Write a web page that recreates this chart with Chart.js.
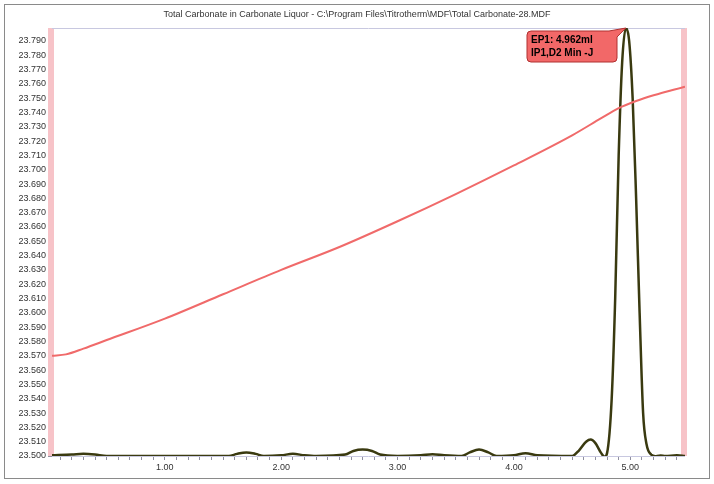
<!DOCTYPE html>
<html><head><meta charset="utf-8">
<script src="https://cdn.jsdelivr.net/npm/chart.js@4.4.1/dist/chart.umd.min.js"></script>
<style>html,body{margin:0;padding:0;background:#fff}#wrap{position:relative;width:714px;height:484px}</style>
</head><body><div id="wrap"><canvas id="c" width="714" height="484"></canvas></div>
<script>
const titleText = "Total Carbonate in Carbonate Liquor - C:\\Program Files\\Titrotherm\\MDF\\Total Carbonate-28.MDF";
const calloutLines = ["EP1: 4.962ml", "IP1,D2 Min -J"];
const peakX = 4.962;
const xMajorTicks = [1, 2, 3, 4, 5];
const yTicks = [23.50,23.51,23.52,23.53,23.54,23.55,23.56,23.57,23.58,23.59,23.60,23.61,23.62,23.63,23.64,23.65,23.66,23.67,23.68,23.69,23.70,23.71,23.72,23.73,23.74,23.75,23.76,23.77,23.78,23.79];
const tempX = [0.03,0.15,0.30,0.50,1.00,1.50,2.00,2.50,3.00,3.50,4.00,4.50,4.75,4.90,5.05,5.20,5.47];
const tempY = [23.570,23.571,23.575,23.581,23.596,23.613,23.630,23.646,23.664,23.683,23.703,23.724,23.736,23.743,23.748,23.752,23.758];
const derivX = [0.03,0.20,0.30,0.40,0.50,1.00,1.55,1.62,1.70,1.78,1.85,2.00,2.10,2.20,2.30,2.55,2.62,2.70,2.78,2.85,3.00,3.20,3.30,3.40,3.55,3.62,3.70,3.78,3.85,4.00,4.10,4.20,4.50,4.56,4.62,4.66,4.70,4.75,4.78,4.80,4.84,4.87,4.90,4.93,4.962,4.99,5.02,5.05,5.08,5.11,5.14,5.18,5.22,5.26,5.30,5.40,5.47];
const derivY = [23.5005,23.5010,23.5015,23.5010,23.5000,23.5000,23.5000,23.5015,23.5025,23.5015,23.5000,23.5005,23.5015,23.5005,23.5000,23.5010,23.5035,23.5045,23.5035,23.5010,23.5000,23.5005,23.5012,23.5005,23.5000,23.5025,23.5045,23.5025,23.5000,23.5005,23.5020,23.5005,23.5000,23.5040,23.5100,23.5115,23.5090,23.5020,23.4995,23.5020,23.5400,23.6100,23.7100,23.7750,23.7990,23.7900,23.7500,23.6800,23.6000,23.5300,23.5080,23.5010,23.4998,23.5003,23.5000,23.5005,23.5000];

const pts = (xs, ys) => xs.map((x, i) => ({x, y: ys[i]}));

const decor = {
  id: 'decor',
  beforeDatasetsDraw(ch) {
    const {ctx, chartArea: a} = ch;
    ctx.save();
    ctx.fillStyle = '#f7c3c8';
    ctx.fillRect(a.left - 4, a.top, 6, a.bottom - a.top);
    ctx.fillRect(a.right - 4, a.top, 6, a.bottom - a.top);
    ctx.strokeStyle = '#c8c8e0'; ctx.lineWidth = 1;
    ctx.beginPath(); ctx.moveTo(a.left, a.top + 0.5); ctx.lineTo(a.right, a.top + 0.5); ctx.stroke();
    ctx.beginPath(); ctx.moveTo(a.left, a.bottom + 0.5); ctx.lineTo(a.right, a.bottom + 0.5); ctx.stroke();
    ctx.restore();
  },
  afterDraw(ch) {
    const {ctx} = ch;
    ctx.save();
    ctx.strokeStyle = '#8a8a8a'; ctx.lineWidth = 1;
    ctx.strokeRect(4.5, 4.5, 705, 474);
    ctx.fillStyle = '#333'; ctx.font = '9px "Liberation Sans", Arial, sans-serif';
    ctx.textAlign = 'center'; ctx.textBaseline = 'middle';
    ctx.fillText(titleText, 357, 15);
    const px = ch.scales.x.getPixelForValue(peakX), py = ch.scales.y.getPixelForValue(23.799);
    const bx = 527, by = 31, bw = 90, bh = 31, r = 4;
    ctx.fillStyle = '#f26868'; ctx.strokeStyle = '#b03030';
    ctx.beginPath();
    ctx.moveTo(bx + r, by); ctx.lineTo(bx + bw - 8, by); ctx.lineTo(px, py); ctx.lineTo(bx + bw, by + 6);
    ctx.lineTo(bx + bw, by + bh - r); ctx.arcTo(bx + bw, by + bh, bx + bw - r, by + bh, r);
    ctx.lineTo(bx + r, by + bh); ctx.arcTo(bx, by + bh, bx, by + bh - r, r);
    ctx.lineTo(bx, by + r); ctx.arcTo(bx, by, bx + r, by, r); ctx.closePath();
    ctx.fill(); ctx.stroke();
    ctx.fillStyle = '#000'; ctx.font = 'bold 10px "Liberation Sans", Arial, sans-serif';
    ctx.textAlign = 'left';
    ctx.fillText(calloutLines[0], bx + 4, by + 9);
    ctx.fillText(calloutLines[1], bx + 4, by + 22);
    ctx.restore();
  }
};

new Chart(document.getElementById('c'), {
  type: 'scatter',
  data: { datasets: [
    { data: pts(tempX, tempY), showLine: true, borderColor: '#f06a6a', borderWidth: 2, pointRadius: 0, cubicInterpolationMode: 'monotone' },
    { data: pts(derivX, derivY), showLine: true, borderColor: '#3a3a10', borderWidth: 2.5, pointRadius: 0, cubicInterpolationMode: 'monotone' }
  ]},
  options: {
    responsive: false, animation: false, events: [],
    layout: { padding: { left: 0, top: 28, right: 29, bottom: 6 } },
    plugins: { legend: { display: false }, tooltip: { enabled: false } },
    scales: {
      x: { type: 'linear', min: 0.03, max: 5.47,
        afterFit(s) { s.height = 22; },
        afterBuildTicks(s) { const t = []; for (let i = 1; i <= 54; i++) t.push({value: i / 10}); s.ticks = t; },
        grid: { display: true, drawOnChartArea: false, color: '#9090a0', tickLength: 4 },
        border: { display: false },
        ticks: { autoSkip: false, maxRotation: 0, color: '#333', font: { size: 9, family: '"Liberation Sans", Arial' }, padding: 2,
          callback(v) { return xMajorTicks.some(m => Math.abs(m - v) < 1e-6) ? v.toFixed(2) : ''; } } },
      y: { type: 'linear', min: 23.5, max: 23.799,
        afterFit(s) { s.width = 52; },
        afterBuildTicks(s) { s.ticks = yTicks.map(v => ({value: v})); },
        grid: { display: true, drawOnChartArea: false, color: '#9090a0', tickLength: 4 },
        border: { display: false },
        ticks: { autoSkip: false, color: '#333', font: { size: 9, family: '"Liberation Sans", Arial' }, padding: 2,
          callback(v) { return v.toFixed(3); } } }
    }
  },
  plugins: [decor]
});
</script></body></html>
